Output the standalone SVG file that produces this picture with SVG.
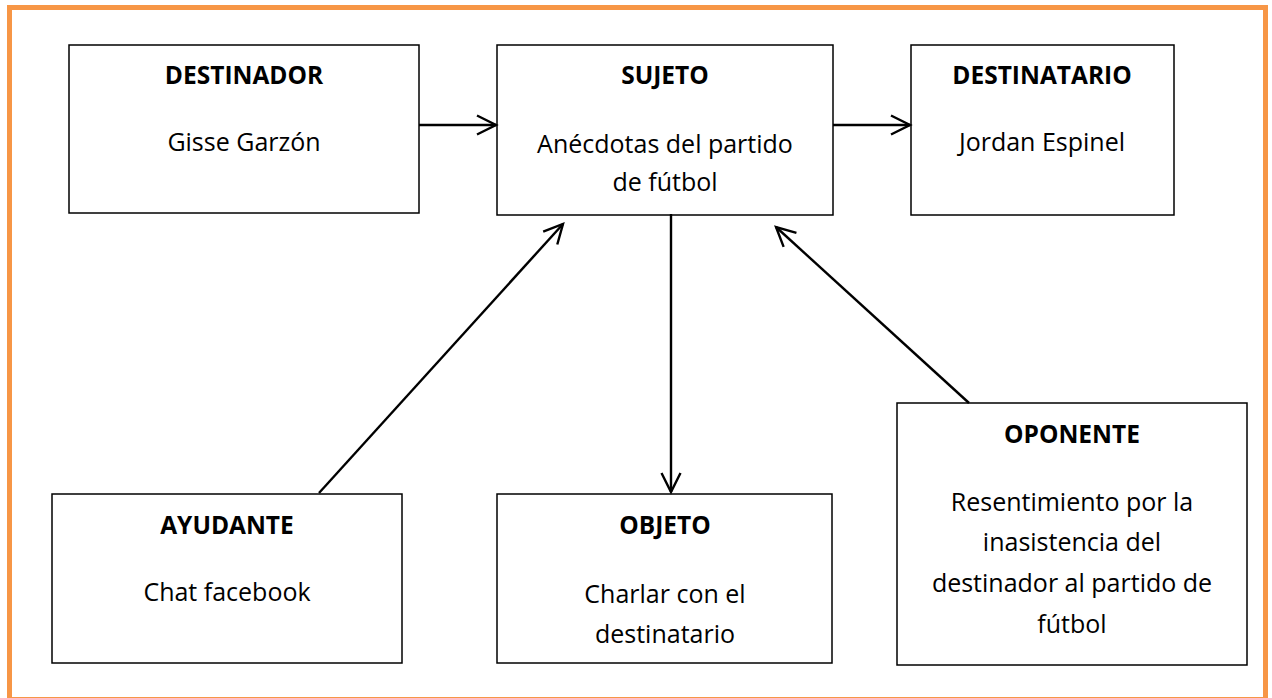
<svg xmlns="http://www.w3.org/2000/svg" width="1272" height="698" viewBox="0 0 1272 698">
<defs>
<marker id="arr" viewBox="0 0 24 24" refX="21" refY="12" markerWidth="24" markerHeight="24" markerUnits="userSpaceOnUse" orient="auto">
<path d="M2,2.5 L21,12 L2,21.5" fill="none" stroke="#000" stroke-width="2.4"/>
</marker>
<style>
.box{fill:#fff;stroke:#000;stroke-width:1.5}
.t{font-family:"Open Sans","Noto Sans",sans-serif;font-size:25px;fill:#000;text-anchor:middle}
.b{font-weight:bold;font-size:24.5px}
.c{stroke:#000;stroke-width:2.4;fill:none;marker-end:url(#arr)}
</style>
</defs>
<rect x="0" y="0" width="1272" height="698" fill="#fff"/>
<rect x="9.5" y="7.5" width="1256" height="692" fill="none" stroke="#F79646" stroke-width="5"/>
<g id="destinador">
<rect class="box" x="69" y="45" width="350" height="168"/>
<text class="t b" x="244" y="84">DESTINADOR</text>
<text class="t" x="244" y="151">Gisse Garzón</text>
</g>
<g id="sujeto">
<rect class="box" x="497" y="45" width="336" height="170"/>
<text class="t b" x="665" y="84">SUJETO</text>
<text class="t" x="665" y="153">Anécdotas del partido</text>
<text class="t" x="665" y="191">de fútbol</text>
</g>
<g id="destinatario">
<rect class="box" x="911" y="45" width="263" height="170"/>
<text class="t b" x="1042" y="84">DESTINATARIO</text>
<text class="t" x="1042" y="151">Jordan Espinel</text>
</g>
<g id="ayudante">
<rect class="box" x="52" y="494" width="350" height="169"/>
<text class="t b" x="227" y="534">AYUDANTE</text>
<text class="t" x="227" y="601">Chat facebook</text>
</g>
<g id="objeto">
<rect class="box" x="497" y="494" width="335" height="169"/>
<text class="t b" x="665" y="534">OBJETO</text>
<text class="t" x="665" y="603">Charlar con el</text>
<text class="t" x="665" y="643">destinatario</text>
</g>
<g id="oponente">
<rect class="box" x="897" y="403" width="350" height="262"/>
<text class="t b" x="1072" y="443">OPONENTE</text>
<text class="t" x="1072" y="511">Resentimiento por la</text>
<text class="t" x="1072" y="551">inasistencia del</text>
<text class="t" x="1072" y="592">destinador al partido de</text>
<text class="t" x="1072" y="633">fútbol</text>
</g>
<g id="connectors">
<line class="c" x1="419" y1="125" x2="496" y2="125"/>
<line class="c" x1="833" y1="125" x2="910" y2="125"/>
<line class="c" x1="671" y1="214" x2="671" y2="492"/>
<line class="c" x1="319" y1="493" x2="563" y2="224"/>
<line class="c" x1="969" y1="403" x2="776" y2="227"/>
</g>
</svg>
